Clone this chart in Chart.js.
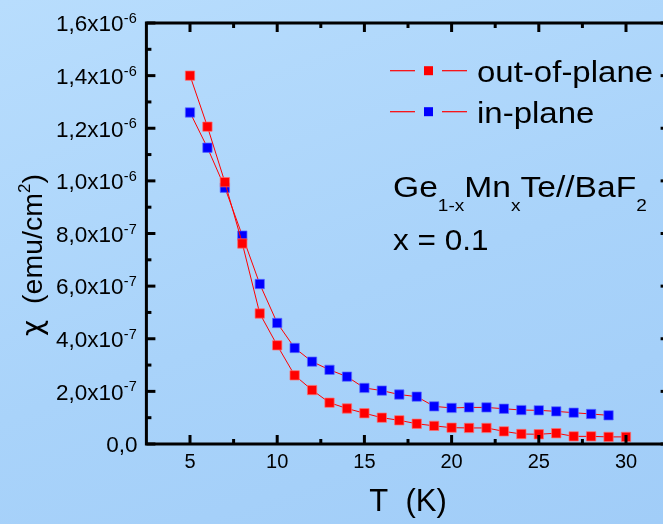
<!DOCTYPE html>
<html>
<head>
<meta charset="utf-8">
<title>Ge1-xMnxTe susceptibility</title>
<script src="https://cdn.jsdelivr.net/npm/chart.js@4.4.0/dist/chart.umd.min.js"></script>
<style>
  html, body {
    margin: 0;
    padding: 0;
    width: 663px;
    height: 524px;
    overflow: hidden;
    background: linear-gradient(160deg, #b8ddfd 0%, #a9d3fa 55%, #a1cdf8 100%);
  }
  canvas { display: block; }
</style>
</head>
<body>
<canvas id="chiChart" width="700" height="524"></canvas>
<script>
// Temperatures (K)
const temps = [5, 6, 7, 8, 9, 10, 11, 12, 13, 14, 15, 16, 17, 18, 19, 20,
  21, 22, 23, 24, 25, 26, 27, 28, 29, 30];

// chi (emu/cm^2), out-of-plane: 5..30 K
const outOfPlane = [1.40e-6, 1.206e-6, 0.995e-6, 0.762e-6, 0.496e-6, 0.375e-6,
  0.261e-6, 0.205e-6, 0.157e-6, 0.135e-6, 0.117e-6, 0.100e-6, 0.090e-6,
  0.077e-6, 0.069e-6, 0.062e-6, 0.061e-6, 0.061e-6, 0.048e-6, 0.038e-6,
  0.037e-6, 0.041e-6, 0.029e-6, 0.029e-6, 0.027e-6, 0.027e-6];

// chi (emu/cm^2), in-plane: 5..29 K
const inPlane = [1.260e-6, 1.126e-6, 0.974e-6, 0.792e-6, 0.608e-6, 0.460e-6,
  0.365e-6, 0.313e-6, 0.282e-6, 0.256e-6, 0.213e-6, 0.203e-6, 0.188e-6,
  0.180e-6, 0.143e-6, 0.137e-6, 0.139e-6, 0.139e-6, 0.134e-6, 0.129e-6,
  0.128e-6, 0.124e-6, 0.119e-6, 0.114e-6, 0.109e-6];

const seriesNames = ['out-of-plane', 'in-plane'];

const xTicks = [5, 10, 15, 20, 25, 30];
const xMinorTicks = [7.5, 12.5, 17.5, 22.5, 27.5];
const yTicks = [0, 0.2e-6, 0.4e-6, 0.6e-6, 0.8e-6, 1.0e-6, 1.2e-6, 1.4e-6, 1.6e-6];
const yMinorTicks = [0.1e-6, 0.3e-6, 0.5e-6, 0.7e-6, 0.9e-6, 1.1e-6, 1.3e-6, 1.5e-6];
const yTickLabels = ['0,0', '2,0x10', '4,0x10', '6,0x10', '8,0x10',
  '1,0x10', '1,2x10', '1,4x10', '1,6x10'];
const yTickExps = ['', '-7', '-7', '-7', '-7', '-6', '-6', '-6', '-6'];

const FONT = '"Liberation Sans", Arial, sans-serif';

// draw a run of text pieces (normal / sub / superscript) from a baseline
function drawPieces(ctx, x, y, pieces, sx) {
  ctx.save();
  ctx.translate(x, y);
  ctx.scale(sx || 1, 1);
  ctx.textAlign = 'left';
  ctx.textBaseline = 'alphabetic';
  let cx = 0;
  pieces.forEach(p => {
    ctx.font = p.size + 'px ' + (p.family || FONT);
    ctx.fillText(p.t, cx, p.dy || 0);
    cx += ctx.measureText(p.t).width;
  });
  ctx.restore();
  return cx;
}

function piecesWidth(ctx, pieces) {
  let w = 0;
  pieces.forEach(p => {
    ctx.font = p.size + 'px ' + (p.family || FONT);
    w += ctx.measureText(p.t).width;
  });
  return w;
}

const framePlugin = {
  id: 'frame',
  afterDraw(chart) {
    const { ctx, chartArea: a, scales: { x, y } } = chart;
    ctx.save();
    ctx.strokeStyle = '#000';
    ctx.fillStyle = '#000';
    ctx.lineWidth = 3;
    ctx.strokeRect(a.left, a.top, a.right - a.left, a.bottom - a.top);

    const tick = (x1, y1, x2, y2) => {
      ctx.beginPath();
      ctx.moveTo(x1, y1);
      ctx.lineTo(x2, y2);
      ctx.stroke();
    };
    xTicks.forEach(v => {
      const px = x.getPixelForValue(v);
      tick(px, a.bottom, px, a.bottom - 9);
      tick(px, a.top, px, a.top + 9);
    });
    xMinorTicks.forEach(v => {
      const px = x.getPixelForValue(v);
      tick(px, a.bottom, px, a.bottom - 5);
      tick(px, a.top, px, a.top + 5);
    });
    yTicks.forEach(v => {
      const py = y.getPixelForValue(v);
      tick(a.left, py, a.left + 9, py);
      tick(a.right, py, a.right - 9, py);
    });
    yMinorTicks.forEach(v => {
      const py = y.getPixelForValue(v);
      tick(a.left, py, a.left + 5, py);
      tick(a.right, py, a.right - 5, py);
    });

    // y tick labels with superscript exponent
    yTicks.forEach((v, i) => {
      const py = y.getPixelForValue(v);
      ctx.textBaseline = 'alphabetic';
      if (yTickExps[i]) {
        ctx.font = '22.5px ' + FONT;
        ctx.textAlign = 'right';
        ctx.fillText(yTickLabels[i], 123.5, py + 8.3);
        ctx.font = '14.5px ' + FONT;
        ctx.textAlign = 'left';
        ctx.fillText(yTickExps[i], 123.8, py);
      } else {
        ctx.font = '22.5px ' + FONT;
        ctx.textAlign = 'right';
        ctx.fillText(yTickLabels[i], 137.5, py + 8.3);
      }
    });

    // y axis title, rotated
    const yTitle = [
      { t: '\u03C7', size: 28, family: '"DejaVu Sans", sans-serif' },
      { t: '  (emu/cm', size: 28.5 },
      { t: '2', size: 17, dy: -12 },
      { t: ')', size: 28.5 }
    ];
    ctx.save();
    ctx.translate(41.5, 255);
    ctx.rotate(-Math.PI / 2);
    drawPieces(ctx, -piecesWidth(ctx, yTitle) / 2, 0, yTitle, 1);
    ctx.restore();

    // legend
    const ds = chart.data.datasets;
    const rows = [70.7, 111.7];
    ds.forEach((d, i) => {
      const ly = rows[i];
      ctx.strokeStyle = d.borderColor;
      ctx.lineWidth = 1.2;
      tick(390, ly, 415, ly);
      tick(442, ly, 467, ly);
      ctx.fillStyle = d.pointBackgroundColor;
      ctx.fillRect(424, ly - 4.5, 9, 9);
      ctx.fillStyle = '#000';
      drawPieces(ctx, 477, ly + 11, [{ t: seriesNames[i], size: 30 }], 1.1);
    });

    // sample annotation
    ctx.fillStyle = '#000';
    drawPieces(ctx, 393, 196.7, [
      { t: 'Ge', size: 30 },
      { t: '1-x', size: 17, dy: 14 },
      { t: 'Mn', size: 30 },
      { t: 'x', size: 17, dy: 14 },
      { t: 'Te//BaF', size: 30 },
      { t: '2', size: 17, dy: 14 }
    ], 1.12);
    drawPieces(ctx, 393, 250, [{ t: 'x = 0.1', size: 30 }], 1.05);

    ctx.restore();
  }
};

const toPoints = (vals) => vals.map((v, i) => ({ x: temps[i], y: v }));

new Chart(document.getElementById('chiChart').getContext('2d'), {
  type: 'scatter',
  data: {
    datasets: [
      {
        label: seriesNames[0],
        data: toPoints(outOfPlane),
        showLine: true,
        borderColor: '#ff0000',
        borderWidth: 1,
        pointStyle: 'rect',
        pointRadius: 6.6,
        pointBackgroundColor: '#ff0000',
        pointBorderColor: 'rgba(255, 110, 110, 0.7)',
        pointBorderWidth: 1
      },
      {
        label: seriesNames[1],
        data: toPoints(inPlane),
        showLine: true,
        borderColor: '#ff0000',
        borderWidth: 1,
        pointStyle: 'rect',
        pointRadius: 6.6,
        pointBackgroundColor: '#0000ff',
        pointBorderColor: 'rgba(90, 110, 255, 0.7)',
        pointBorderWidth: 1
      }
    ]
  },
  options: {
    responsive: false,
    animation: false,
    layout: {
      padding: { top: 23, right: 30.4, left: 0, bottom: 0 }
    },
    plugins: {
      legend: { display: false },
      tooltip: { enabled: false }
    },
    scales: {
      x: {
        type: 'linear',
        min: 2.5,
        max: 32.5,
        grid: { display: false, drawTicks: false },
        border: { display: false },
        afterBuildTicks: (scale) => {
          scale.ticks = xTicks.map(v => ({ value: v }));
        },
        ticks: {
          autoSkip: false,
          maxRotation: 0,
          padding: 6,
          color: '#000',
          font: { size: 20, family: FONT }
        },
        title: {
          display: true,
          text: 'T  (K)',
          color: '#000',
          font: { size: 31, family: FONT },
          padding: { top: 0, bottom: 3 }
        },
        afterFit: (scale) => { scale.height = 80; }
      },
      y: {
        min: 0,
        max: 1.6e-6,
        grid: { display: false, drawTicks: false },
        border: { display: false },
        ticks: { display: false },
        afterFit: (scale) => { scale.width = 146.4; }
      }
    }
  },
  plugins: [framePlugin]
});
</script>
</body>
</html>
